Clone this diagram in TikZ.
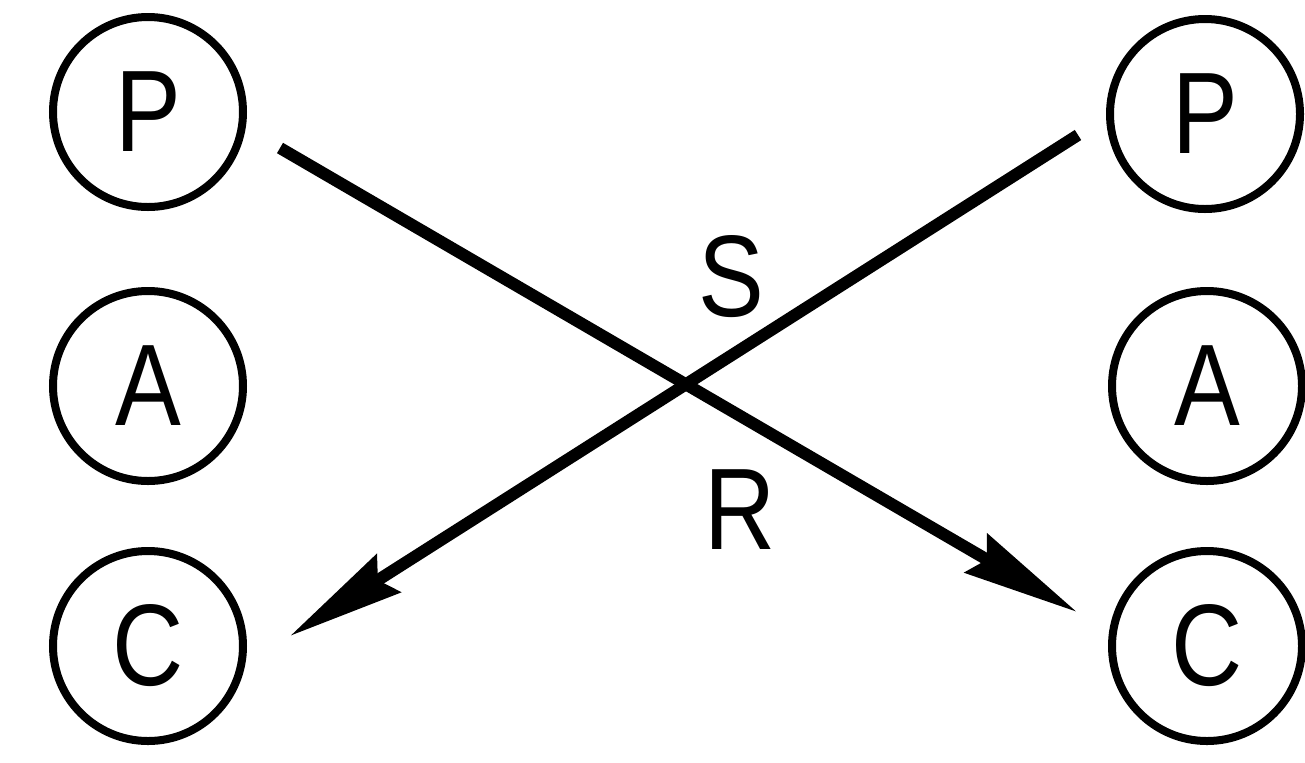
\documentclass[tikz,border=0pt]{standalone}
\usepackage{fontspec}
\setmainfont{Liberation Sans}
\usetikzlibrary{arrows.meta}
\newcommand{\narrowtxt}[1]{\scalebox{0.85}[1]{#1}}
\begin{document}
\begin{tikzpicture}[x=0.5pt,y=-0.5pt,
  state/.style={draw,circle,line width=4pt,minimum size=95pt,inner sep=0pt,font=\fontsize{58}{62}\selectfont},
  lbl/.style={font=\fontsize{58}{62}\selectfont,inner sep=0pt},
  conn/.style={line width=6pt,-{Stealth[length=58pt,width=22pt,inset=6pt]}}]
\useasboundingbox (0,0) rectangle (1305,762);
\node[state] (lP) at (148,112) {\narrowtxt{P}};
\node[state] (lA) at (148,386) {\narrowtxt{A}};
\node[state] (lC) at (148,646) {\narrowtxt{C}};
\node[state] (rP) at (1205,114) {\narrowtxt{P}};
\node[state] (rA) at (1207,386) {\narrowtxt{A}};
\node[state] (rC) at (1207,646) {\narrowtxt{C}};
\coordinate (s1) at (280,148);
\coordinate (e1) at (1077,612);
\coordinate (s2) at (1078,135);
\coordinate (e2) at (290,636);
\draw[conn] (s1) -- (e1);
\draw[conn] (s2) -- (e2);
\node[lbl] (S) at (731,277) {\narrowtxt{S}};
\node[lbl] (R) at (740,510) {\narrowtxt{R}};
\end{tikzpicture}
\end{document}
